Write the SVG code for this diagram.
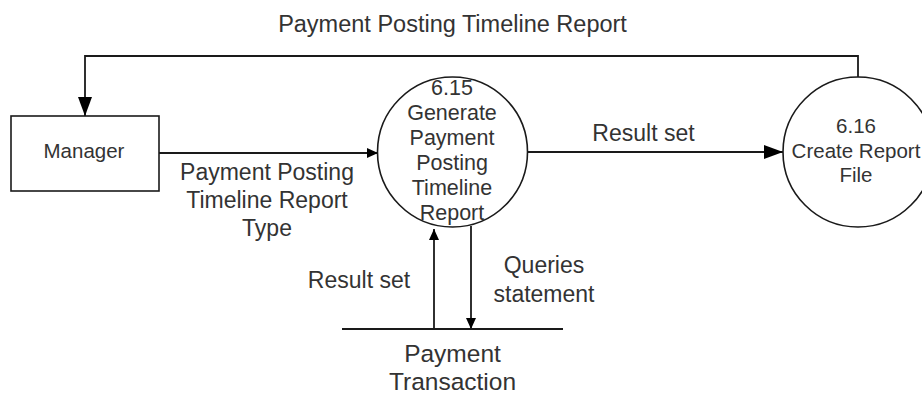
<svg xmlns="http://www.w3.org/2000/svg" width="922" height="405" viewBox="0 0 922 405">
<style>
  text { font-family: "Liberation Sans", Arial, sans-serif; font-size: 21.5px; fill: #333; text-anchor: middle; }
  .lbl { font-size: 23px; }
  .title { font-size: 23.5px; }
  .store { font-size: 24.5px; }
  .sm { font-size: 20.5px; }
  .node { fill: #fff; stroke: #1a1a1a; stroke-width: 1.6; }
  .flow { fill: none; stroke: #1a1a1a; stroke-width: 1.8; }
</style>
<defs>
  <marker id="big" markerUnits="userSpaceOnUse" markerWidth="20" markerHeight="14" refX="19" refY="7" orient="auto">
    <path d="M0,0 L19,7 L0,14 Z" fill="#000"/>
  </marker>
  <marker id="small" markerUnits="userSpaceOnUse" markerWidth="12" markerHeight="10" refX="11" refY="5" orient="auto">
    <path d="M0,0 L11,5 L0,10 Z" fill="#000"/>
  </marker>
</defs>
<rect width="922" height="405" fill="#fff"/>

<g id="connectors">
  <polyline class="flow" points="858,77 858,56 85,56 85,116" marker-end="url(#big)"/>
  <text class="title" x="452.5" y="32">Payment Posting Timeline Report</text>

  <line class="flow" x1="159" y1="153" x2="378" y2="153" marker-end="url(#small)"/>
  <text class="lbl" x="267" y="180">Payment Posting</text>
  <text class="lbl" x="267" y="208">Timeline Report</text>
  <text class="lbl" x="267" y="236">Type</text>

  <line class="flow" x1="527" y1="152" x2="783" y2="152" marker-end="url(#big)"/>
  <text class="lbl" x="643.5" y="141">Result set</text>

  <line class="flow" x1="434" y1="329" x2="434" y2="229" marker-end="url(#small)"/>
  <text class="lbl" x="359" y="288">Result set</text>

  <line class="flow" x1="471" y1="226" x2="471" y2="329" marker-end="url(#small)"/>
  <text class="lbl" x="544" y="273">Queries</text>
  <text class="lbl" x="544" y="302">statement</text>
</g>

<g id="manager">
  <rect class="node" x="11" y="116" width="148" height="75"/>
  <text class="sm" x="84" y="158">Manager</text>
</g>

<g id="p615">
  <circle class="node" cx="452.5" cy="152" r="75" fill="none"/>
  <text x="452" y="95">6.15</text>
  <text x="452" y="120">Generate</text>
  <text x="452" y="145">Payment</text>
  <text x="452" y="170">Posting</text>
  <text x="452" y="195">Timeline</text>
  <text x="452" y="220">Report</text>
</g>

<g id="p616">
  <circle class="node" cx="858" cy="152" r="75"/>
  <text class="sm" x="856" y="133">6.16</text>
  <text class="sm" x="856" y="158">Create Report</text>
  <text class="sm" x="856" y="182">File</text>
</g>

<g id="store">
  <line class="flow" x1="342" y1="329" x2="563" y2="329" stroke="#555"/>
  <text class="store" x="452.5" y="362">Payment</text>
  <text class="store" x="452.5" y="390">Transaction</text>
</g>
</svg>
